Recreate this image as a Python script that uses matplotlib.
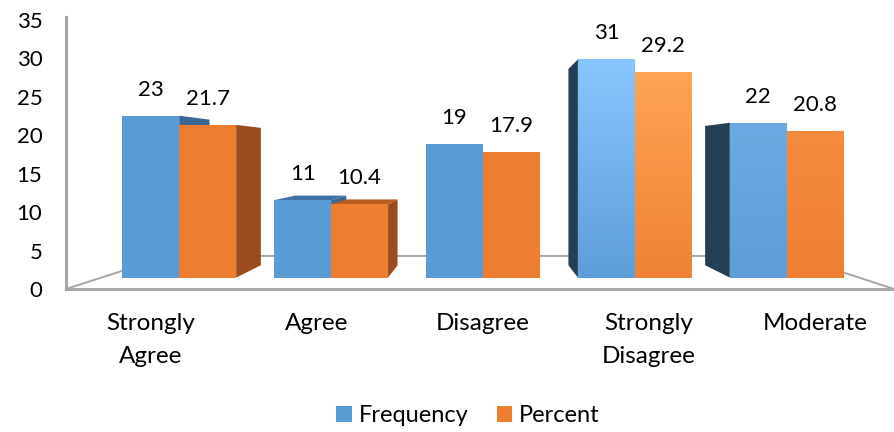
import matplotlib
matplotlib.use("Agg")
import matplotlib.pyplot as plt
import numpy as np
from matplotlib.patches import Polygon, Patch
from matplotlib.colors import to_rgb

plt.rcParams['font.family'] = ['Lato', 'DejaVu Sans']

categories = ["Strongly\nAgree", "Agree", "Disagree", "Strongly\nDisagree", "Moderate"]
frequency = [23, 11, 19, 31, 22]
percent = [21.7, 10.4, 17.9, 29.2, 20.8]
freq_labels = ["23", "11", "19", "31", "22"]
pct_labels = ["21.7", "10.4", "17.9", "29.2", "20.8"]

# perspective setup (front plane = axis plane)
VX, VY = 2.0, 17.48      # vanishing point in data units
S_FRONT = 0.915          # bar front faces
S_BACK = 0.915 * 0.9     # bar back faces
S_FLOOR = 0.754          # back edge of the floor
FLOOR_L, FLOOR_R = -0.512, 4.476
BAR_W = 0.375

blue_top = ["#5B9BD5", "#5B9BD5", "#5B9BD5", "#88C6FF", "#6CAAE4"]
blue_bot = ["#5B9BD5", "#5B9BD5", "#5B9BD5", "#5D9DDA", "#5E9DD8"]
orng_top = ["#ED7D31", "#ED7D31", "#ED7D31", "#FFA354", "#F58B3F"]
orng_bot = ["#ED7D31", "#ED7D31", "#ED7D31", "#EF8236", "#EE7F33"]
blue_right, blue_left, blue_lid = "#3A6892", "#243F56", "#3F72A4"
orng_right, orng_left, orng_lid = "#9B4C1E", "#6E3A18", "#B85C22"
grey = "#A6A6A6"


def proj(X, Y, s):
    return VX + (X - VX) * s, VY + (Y - VY) * s


def face(ax, pts, color, z):
    ax.add_patch(Polygon(pts, closed=True, facecolor=color, edgecolor='none', zorder=z))


def draw_bar(ax, X0, X1, Y, top_c, bot_c, right_c, left_c, lid_c, z):
    f = lambda X, Yv: proj(X, Yv, S_FRONT)
    b = lambda X, Yv: proj(X, Yv, S_BACK)
    if X1 < VX:
        face(ax, [f(X1, 0), b(X1, 0), b(X1, Y), f(X1, Y)], right_c, z)
    if X0 > VX:
        face(ax, [f(X0, 0), b(X0, 0), b(X0, Y), f(X0, Y)], left_c, z)
    if Y < VY:
        face(ax, [f(X0, Y), f(X1, Y), b(X1, Y), b(X0, Y)], lid_c, z)
    (x0, y0), (x1, y1) = f(X0, 0), f(X1, Y)
    if top_c == bot_c:
        face(ax, [(x0, y0), (x1, y0), (x1, y1), (x0, y1)], top_c, z + 0.1)
    else:
        t = np.linspace(0, 1, 128)[:, None]
        grad = (1 - t) * np.array(to_rgb(top_c)) + t * np.array(to_rgb(bot_c))
        im = ax.imshow(grad[:, None, :], extent=(x0, x1, y0, y1), origin='upper',
                       aspect='auto', interpolation='bilinear', zorder=z + 0.1)
        clip = Polygon([(x0, y0), (x1, y0), (x1, y1), (x0, y1)], transform=ax.transData,
                       facecolor='none', edgecolor='none')
        im.set_clip_path(clip)


fig = plt.figure(figsize=(8.94, 4.32), dpi=100)
ax = fig.add_axes([66 / 894, (432 - 289) / 432, (894 - 66) / 894, (289 - 17) / 432])
ax.set_facecolor('none')

# floor outline
fl = [proj(FLOOR_L, 0, 1), proj(FLOOR_L, 0, S_FLOOR), proj(FLOOR_R, 0, S_FLOOR), proj(FLOOR_R, 0, 1)]
ax.plot([p[0] for p in fl], [p[1] for p in fl], color=grey, lw=1.4, clip_on=False, zorder=1)

for i in range(len(categories)):
    bars = [(i - BAR_W, i, frequency[i], blue_top[i], blue_bot[i], blue_right, blue_left, blue_lid),
            (i, i + BAR_W, percent[i], orng_top[i], orng_bot[i], orng_right, orng_left, orng_lid)]
    # farther from the vanishing point first
    bars.sort(key=lambda b: -abs((b[0] + b[1]) / 2 - VX))
    for k, b in enumerate(bars):
        draw_bar(ax, *b, z=2 + k)
    for X, v, lab in [(i - BAR_W / 2, frequency[i], freq_labels[i]),
                      (i + BAR_W / 2, percent[i], pct_labels[i])]:
        x, y = proj(X, v + 3.7, S_FRONT)
        ax.text(x, y, lab, ha='center', va='center', fontsize=16, color='black', zorder=10)

ax.set_xlim(FLOOR_L, FLOOR_R)
ax.set_ylim(0, 35.37)
ax.set_yticks(range(0, 36, 5))
ax.tick_params(axis='y', length=0, pad=17, labelsize=16)
ax.set_xticks(range(len(categories)))
ax.set_xticklabels(categories, fontsize=17.5, linespacing=1.7)
ax.tick_params(axis='x', length=0, pad=17)
for side in ['top', 'right']:
    ax.spines[side].set_visible(False)
for side in ['left', 'bottom']:
    ax.spines[side].set_color(grey)
    ax.spines[side].set_linewidth(2.2)

handles = [Patch(facecolor="#5B9BD5", label="Frequency"), Patch(facecolor="#ED7D31", label="Percent")]
fig.legend(handles=handles, loc='center', bbox_to_anchor=(468 / 894, 1 - 416 / 432), ncol=2,
           frameon=False, fontsize=17, handlelength=0.64, handleheight=0.64,
           handletextpad=0.3, columnspacing=1.2)

fig.savefig("out.png", dpi=100)
